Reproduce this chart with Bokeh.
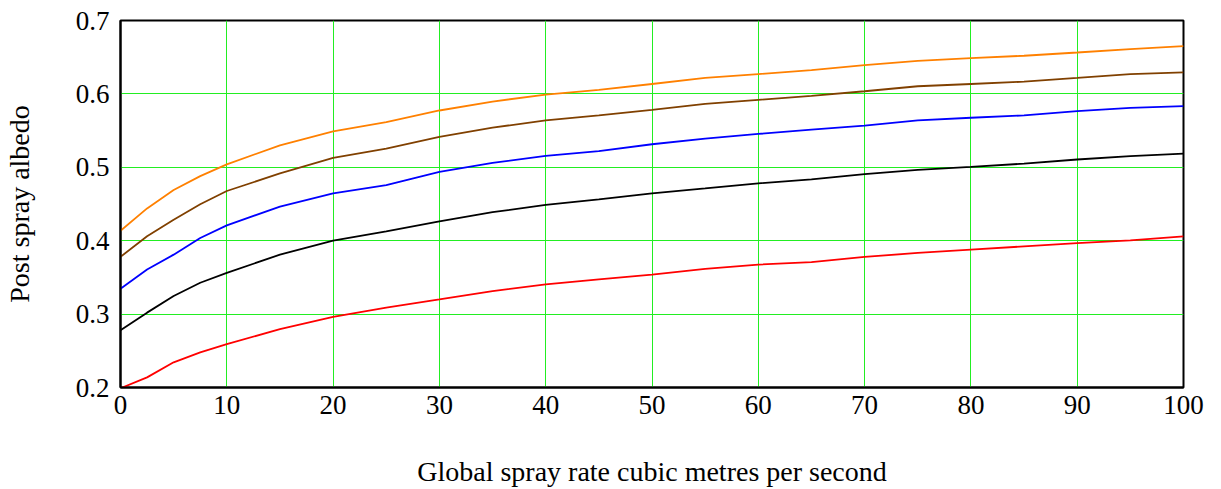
from bokeh.plotting import figure
from bokeh.embed import file_html
from bokeh.resources import INLINE
from bokeh.models import FixedTicker, Range1d

spray_rate = [0, 2.5, 5, 7.5, 10, 15, 20, 25, 30, 35, 40, 45, 50, 55, 60, 65, 70, 75, 80, 85, 90, 95, 100]

albedo_orange = [0.4135, 0.444, 0.469, 0.488, 0.504, 0.530, 0.549, 0.5616, 0.5774, 0.5896, 0.599, 0.6054,
                 0.6135, 0.6217, 0.627, 0.6325, 0.6393, 0.6451, 0.6488, 0.652, 0.6564, 0.661, 0.665]
albedo_brown = [0.378, 0.406, 0.4285, 0.4497, 0.4677, 0.4917, 0.5129, 0.5255, 0.5413, 0.554, 0.5639, 0.5707,
                0.5783, 0.5865, 0.5919, 0.5973, 0.6036, 0.6104, 0.6135, 0.6167, 0.6217, 0.627, 0.6293]
albedo_blue = [0.3345, 0.3607, 0.381, 0.4036, 0.4208, 0.4465, 0.4646, 0.4758, 0.4939, 0.5061, 0.5156, 0.5219,
               0.5314, 0.539, 0.5454, 0.5512, 0.5567, 0.5639, 0.5675, 0.5707, 0.5765, 0.581, 0.5833]
albedo_black = [0.278, 0.302, 0.3246, 0.3427, 0.3562, 0.381, 0.400, 0.4126, 0.4262, 0.4388, 0.4488, 0.4564,
                0.4646, 0.4713, 0.4781, 0.4835, 0.4907, 0.4966, 0.5007, 0.505, 0.5106, 0.5151, 0.5187]
albedo_red = [0.199, 0.2138, 0.2343, 0.2478, 0.2591, 0.2795, 0.2962, 0.3088, 0.320, 0.3314, 0.3404, 0.3472,
              0.3539, 0.3616, 0.3675, 0.3707, 0.3779, 0.3833, 0.3878, 0.3923, 0.3968, 0.4005, 0.4059]

x_ticks = [0, 10, 20, 30, 40, 50, 60, 70, 80, 90, 100]
y_ticks = [0.2, 0.3, 0.4, 0.5, 0.6, 0.7]

series = [
    (albedo_orange, "#ff8000"),
    (albedo_brown, "#804000"),
    (albedo_blue, "#0000ff"),
    (albedo_black, "#000000"),
    (albedo_red, "#ff0000"),
]

FONT = "Liberation Serif"

p = figure(width=1213, height=489, output_backend="svg", toolbar_location=None,
           x_range=Range1d(0, 100), y_range=Range1d(0.2, 0.7))
p.min_border_left = 120
p.min_border_top = 20
p.min_border_right = 30
p.min_border_bottom = 102

for ys, color in series:
    p.line(spray_rate, ys, line_color=color, line_width=1.8)

p.outline_line_color = "black"
p.outline_line_width = 2
p.background_fill_color = "white"
p.border_fill_color = "white"

p.xgrid.ticker = FixedTicker(ticks=x_ticks)
p.ygrid.ticker = FixedTicker(ticks=y_ticks)
p.xgrid.grid_line_color = "#22ee22"
p.ygrid.grid_line_color = "#22ee22"
p.xgrid.grid_line_width = 1
p.ygrid.grid_line_width = 1

for ax in (p.xaxis[0], p.yaxis[0]):
    ax.axis_line_color = "black"
    ax.axis_line_width = 2
    ax.major_tick_line_color = None
    ax.minor_tick_line_color = None
    ax.major_label_text_font = FONT
    ax.major_label_text_font_size = "27px"
    ax.major_label_text_color = "black"
    ax.axis_label_text_font = FONT
    ax.axis_label_text_font_size = "28px"
    ax.axis_label_text_font_style = "normal"
    ax.axis_label_text_color = "black"

p.xaxis.ticker = FixedTicker(ticks=x_ticks)
p.yaxis.ticker = FixedTicker(ticks=y_ticks)
p.xaxis.major_label_standoff = 2
p.yaxis.major_label_standoff = 5
p.xaxis.axis_label = "Global spray rate cubic metres per second"
p.yaxis.axis_label = "Post spray albedo"
p.xaxis.axis_label_standoff = 39
p.yaxis.axis_label_standoff = 38

open("out.html", "w").write(file_html(p, INLINE))
